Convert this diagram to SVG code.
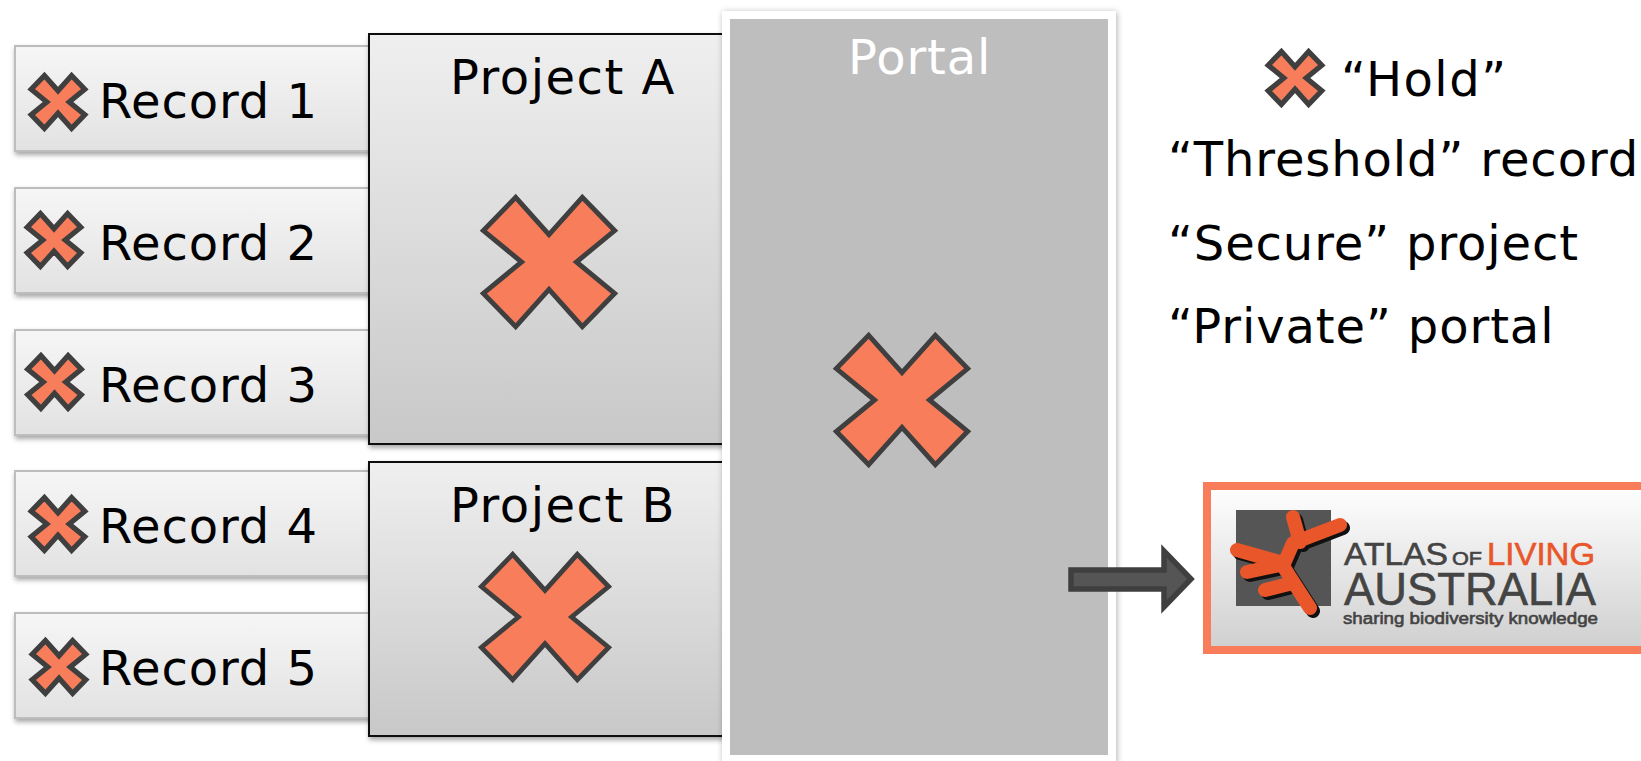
<svg xmlns="http://www.w3.org/2000/svg" width="1641" height="761" viewBox="0 0 1641 761">
<style>
text{font-family:"DejaVu Sans",Verdana,sans-serif;font-size:48px;fill:#000;letter-spacing:.9px}
.pt{letter-spacing:1.500px}
.rec{fill:url(#gr);stroke:#bdbdbd;stroke-width:2;filter:url(#sh)}
.prj{fill:url(#gp);stroke:#111;stroke-width:2;filter:url(#sh)}
.x{fill:#f87d5a;stroke:#3f3f3f;stroke-width:5;stroke-miterlimit:10}
.xs{fill:#f87d5a;stroke:#3f3f3f;stroke-width:13;stroke-miterlimit:10}
.org{fill:none;stroke:#e9562a;stroke-width:14;stroke-linecap:round;stroke-linejoin:round}
.orgs{fill:none;stroke:#111;stroke-width:14;stroke-linecap:round;stroke-linejoin:round}
.lg{font-family:"Liberation Sans",Arial,sans-serif;fill:#444;stroke:#444;stroke-width:.6;letter-spacing:0}
</style>
<defs>
<linearGradient id="gr" x1="0" y1="0" x2="0" y2="1"><stop offset="0" stop-color="#f6f6f6"/><stop offset="1" stop-color="#e2e2e2"/></linearGradient>
<linearGradient id="gp" x1="0" y1="0" x2="0" y2="1"><stop offset="0" stop-color="#efefef"/><stop offset="1" stop-color="#c8c8c8"/></linearGradient>
<linearGradient id="gl" x1="0" y1="0" x2="0" y2="1"><stop offset="0" stop-color="#ffffff"/><stop offset="1" stop-color="#cfcfcf"/></linearGradient>
<filter id="sh" x="-10%" y="-10%" width="120%" height="125%"><feDropShadow dx="1" dy="3" stdDeviation="2.500" flood-color="#000" flood-opacity=".35"/></filter>
<filter id="sp" x="-5%" y="-5%" width="110%" height="110%"><feDropShadow dx="1" dy="1" stdDeviation="3" flood-color="#000" flood-opacity=".3"/></filter>
<polygon id="x" points="-34,-66 0,-28 34,-66 67,-32 28,0 67,32 34,66 0,28 -34,66 -67,32 -28,0 -67,-32"/>
</defs>
<g id="record-1"><rect class="rec" x="15" y="46" width="380" height="105"/><use href="#x" class="xs" transform="translate(58,102) scale(.4)"/><text x="99" y="118">Record 1</text></g>
<g id="record-2"><rect class="rec" x="15" y="188" width="380" height="105"/><use href="#x" class="xs" transform="translate(54,240) scale(.4)"/><text x="99" y="260">Record 2</text></g>
<g id="record-3"><rect class="rec" x="15" y="330" width="380" height="105"/><use href="#x" class="xs" transform="translate(54.500,382) scale(.4)"/><text x="99" y="402">Record 3</text></g>
<g id="record-4"><rect class="rec" x="15" y="471" width="380" height="105"/><use href="#x" class="xs" transform="translate(58,524) scale(.4)"/><text x="99" y="543">Record 4</text></g>
<g id="record-5"><rect class="rec" x="15" y="613" width="380" height="105"/><use href="#x" class="xs" transform="translate(59,667) scale(.4)"/><text x="99" y="685">Record 5</text></g>
<g id="project-a"><rect class="prj" x="369" y="34" width="400" height="410"/><text class="pt" x="450" y="94">Project A</text><use href="#x" class="x" transform="translate(549,262) scale(.98)"/></g>
<g id="project-b"><rect class="prj" x="369" y="462" width="400" height="274"/><text class="pt" x="450" y="522">Project B</text><use href="#x" class="x" transform="translate(545,617) scale(.95)"/></g>
<g id="portal"><rect x="726" y="15" width="386" height="744" fill="#bebebe" stroke="#fff" stroke-width="8" filter="url(#sp)"/><text x="848" y="74" style="fill:#fff">Portal</text><use href="#x" class="x" transform="translate(902,400) scale(.98)"/></g>
<g id="connectors"><polygon points="1071,570 1164,570 1164,551 1191,579 1164,607 1164,589 1071,589" fill="#555" stroke="#3f3f3f" stroke-width="5.500"/></g>
<g id="legend"><use href="#x" class="xs" transform="translate(1295,78) scale(.4)"/>
<text x="1341" y="96" style="letter-spacing:1.500px">“Hold”</text><text x="1168" y="176">“Threshold” record</text><text x="1168" y="260">“Secure” project</text><text x="1168" y="343">“Private” portal</text></g>
<g id="ala-logo"><rect x="1207" y="486" width="438" height="164" fill="url(#gl)" stroke="#f87d5a" stroke-width="8"/>
<rect x="1236" y="510" width="95" height="96" fill="#555"/>
<path class="orgs" d="M1293,517 L1300,542 M1340,525 L1293,543 L1283,566 L1310,608 M1237,550 L1283,563 M1247,572 L1280,565 M1265,590 L1293,583" transform="translate(3,3)"/>
<path class="org" d="M1293,517 L1300,542 M1340,525 L1293,543 L1283,566 L1310,608 M1237,550 L1283,563 M1247,572 L1280,565 M1265,590 L1293,583"/>
<text class="lg" x="1344" y="565" textLength="104" style="font-size:32px" lengthAdjust="spacingAndGlyphs">ATLAS</text>
<text class="lg" x="1452" y="565" textLength="30" style="font-size:19px" lengthAdjust="spacingAndGlyphs">OF</text>
<text class="lg" x="1487" y="565" textLength="108" style="font-size:32px;fill:#e9562a;stroke:#e9562a" lengthAdjust="spacingAndGlyphs">LIVING</text>
<text class="lg" x="1344" y="605" textLength="252" style="font-size:46px" lengthAdjust="spacingAndGlyphs">AUSTRALIA</text>
<text class="lg" x="1343" y="624" textLength="255" style="font-size:16px" lengthAdjust="spacingAndGlyphs">sharing biodiversity knowledge</text></g>
</svg>
